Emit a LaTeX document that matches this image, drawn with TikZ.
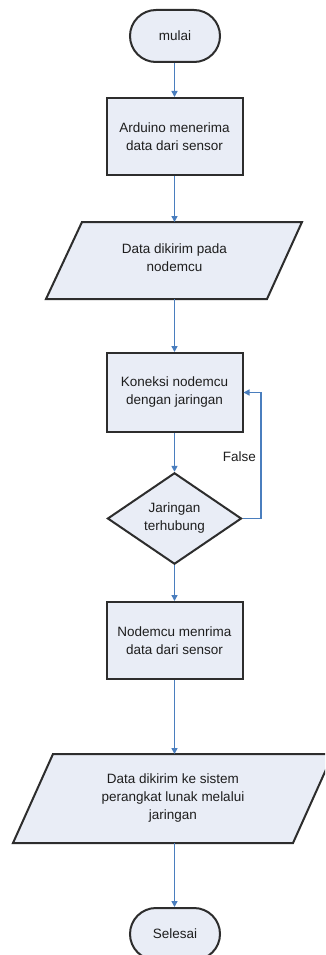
\documentclass[tikz,border=0pt]{standalone}
\usepackage{fontspec}
\setmainfont{Liberation Sans}
\usetikzlibrary{shapes.geometric,arrows.meta}
\definecolor{boxfill}{RGB}{233,237,246}
\definecolor{boxline}{RGB}{45,45,45}
\definecolor{flowblue}{RGB}{74,126,190}
\definecolor{txt}{RGB}{30,30,30}
\tikzset{
  shapebase/.style={draw=boxline, fill=boxfill, line width=2pt, text=txt,
    font=\fontsize{13.5}{18}\selectfont, align=center, inner sep=0pt},
  terminal/.style={shapebase, rectangle, rounded corners=26pt,
    minimum width=90pt, minimum height=52pt},
  process/.style={shapebase, rectangle, minimum width=136pt, minimum height=77pt},
  decision/.style={shapebase, diamond, minimum width=134pt, minimum height=77pt},
  iotext/.style={text=txt, font=\fontsize{13.5}{18}\selectfont, align=center, inner sep=0pt},
  iobox/.style={draw=boxline, fill=boxfill, line width=2pt},
  flow/.style={draw=flowblue, line width=1.5pt, -{Triangle[length=6pt,width=6pt]}},
  lbl/.style={text=txt, font=\fontsize{13.5}{15}\selectfont, inner sep=0pt}
}
\begin{document}
\begin{tikzpicture}[x=1pt,y=-1pt]
\useasboundingbox (0,0) rectangle (325,955);
\clip (0,0) rectangle (325,955);
\fill[white] (0,0) rectangle (325,955);

% start
\node[terminal] (mulai) at (175,36) {mulai};
% process 1
\node[process] (r1) at (174.5,136.5) {Arduino menerima\\data dari sensor};
% io 1
\coordinate (p1top) at (174.5,222);
\coordinate (p1bot) at (174.5,299);
\draw[iobox] (82,222) -- (302,222) -- (267,299) -- (46,299) -- cycle;
\node[iotext] (p1) at (174.5,258) {Data dikirim pada\\nodemcu};
% process 2
\node[process, minimum height=79pt] (r2) at (174.5,392.5) {Koneksi nodemcu\\dengan jaringan};
% decision
\node[decision] (d) at (174.5,518.5) {Jaringan\\terhubung};
% process 3
\node[process] (r3) at (174.5,640.5) {Nodemcu menrima\\data dari sensor};
% io 2
\coordinate (p2top) at (174.5,754);
\coordinate (p2bot) at (174.5,843);
\draw[iobox] (53,754) -- (333,754) -- (293,843) -- (13,843) -- cycle;
\node[iotext] (p2) at (173,798) {Data dikirim ke sistem\\perangkat lunak melalui\\jaringan};
% end
\node[terminal] (selesai) at (175,934) {Selesai};

% connectors
\draw[flow] (mulai.south -| r1.north) -- (r1.north);
\draw[flow] (r1.south) -- (p1top);
\draw[flow] (p1bot) -- (r2.north);
\draw[flow] (r2.south) -- (d.north);
\draw[flow] (d.south) -- (r3.north);
\draw[flow] (r3.south) -- (p2top);
\draw[flow] (p2bot) -- (p2bot |- selesai.north);
\coordinate (fc) at (261,518.5);
\draw[flow] (d.east) -- (fc) |- (r2.east);
\node[lbl, anchor=east] (false) at (256,457) {False};
\end{tikzpicture}
\end{document}
